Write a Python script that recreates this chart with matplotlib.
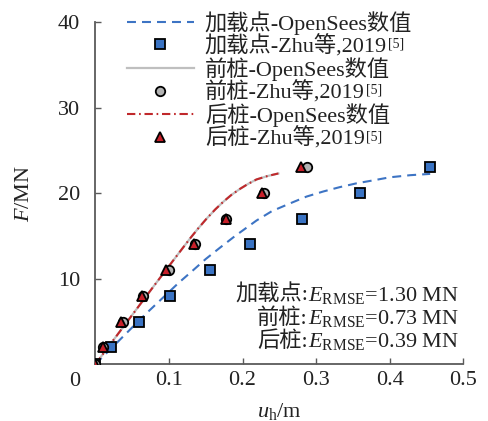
import matplotlib
matplotlib.use("Agg")
import matplotlib.pyplot as plt
from matplotlib.offsetbox import TextArea, HPacker, VPacker, AnchoredOffsetbox
from matplotlib.font_manager import FontProperties

plt.rcParams['font.family'] = ['Liberation Serif', 'Noto Sans CJK SC']
plt.rcParams['mathtext.fontset'] = 'custom'
plt.rcParams['mathtext.rm'] = 'Liberation Serif'
plt.rcParams['mathtext.it'] = 'Liberation Serif:italic'
plt.rcParams['font.size'] = 16

# OpenSees simulation curves (u_h in m, F in MN)
load_sim_u = [0, 0.0675, 0.113, 0.133, 0.15, 0.169, 0.19, 0.219, 0.24, 0.2645,
              0.287, 0.31, 0.332, 0.355, 0.378, 0.4, 0.428, 0.455]
load_sim_F = [0, 5.8, 9.5, 11.0, 12.3, 13.6, 15.0, 16.8, 17.9, 18.8,
              19.6, 20.2, 20.7, 21.15, 21.5, 21.85, 22.1, 22.25]
front_sim_u = [0, 0.04, 0.08, 0.11, 0.1287, 0.14, 0.151, 0.163, 0.174, 0.185,
               0.1966, 0.208, 0.219, 0.234, 0.2487]
front_sim_F = [0, 4.6, 9.2, 12.6, 14.7, 15.9, 17.0, 18.1, 19.0, 19.8,
               20.5, 21.1, 21.6, 22.0, 22.3]
rear_sim_u = front_sim_u
rear_sim_F = front_sim_F

# Zhu et al., 2019 test data
load_exp_u = [0, 0.022, 0.059, 0.102, 0.156, 0.210, 0.281, 0.359, 0.455]
load_exp_F = [0, 2, 5, 8, 11, 14, 17, 20, 23]
front_exp_u = [0, 0.011, 0.038, 0.065, 0.100, 0.136, 0.178, 0.229, 0.287]
front_exp_F = [0, 2, 5, 8, 11, 14, 17, 20, 23]
rear_exp_u = [0, 0.011, 0.0345, 0.063, 0.096, 0.134, 0.177, 0.226, 0.280]
rear_exp_F = [0, 2, 5, 8, 11, 14, 17, 20, 23]

labels = ["加载点-OpenSees数值", "加载点-Zhu等,2019",
          "前桩-OpenSees数值", "前桩-Zhu等,2019",
          "后桩-OpenSees数值", "后桩-Zhu等,2019"]
rmse_names = ["加载点:", "前桩:", "后桩:"]
rmse_values = ["1.30", "0.73", "0.39"]
x_ticks = [0.1, 0.2, 0.3, 0.4, 0.5]
y_ticks = [10, 20, 30, 40]

blue_line = '#3d74c4'
blue_face = '#3a73c3'
gray_line = '#bfbfbf'
gray_face = '#b3b3b3'
red_line = '#c0282b'
red_face = '#c8202a'

fig = plt.figure(figsize=(4.89, 4.21), dpi=100)
ax = fig.add_axes([95.3 / 489, 1 - 364.3 / 421, 368 / 489, 342.3 / 421])

h1, = ax.plot(load_sim_u, load_sim_F, color=blue_line, lw=1.5,
              linestyle=(0, (4.3, 2.9)), zorder=2)
h3, = ax.plot(front_sim_u, front_sim_F, color=gray_line, lw=1.6, zorder=2)
h5, = ax.plot(rear_sim_u, rear_sim_F, color=red_line, lw=1.5,
              linestyle=(0, (4, 1.8, 0.8, 1.8)), zorder=3)
h2, = ax.plot(load_exp_u, load_exp_F, 's', ms=6.8, mfc=blue_face, mec='black',
              mew=1.3, linestyle='none', zorder=4)
h4, = ax.plot(front_exp_u, front_exp_F, 'o', ms=6.8, mfc=gray_face, mec='black',
              mew=1.3, linestyle='none', zorder=5)
h6, = ax.plot(rear_exp_u, rear_exp_F, '^', ms=6.5, mfc=red_face, mec='black',
              mew=1.3, linestyle='none', zorder=6)

ax.set_xlim(0, 0.5)
ax.set_ylim(0, 40)
ax.set_xticks(x_ticks)
ax.set_xticklabels([f"{v:g}" for v in x_ticks])
ax.set_yticks(y_ticks)
ax.set_yticklabels([str(v) for v in y_ticks])
for s in ['top', 'right']:
    ax.spines[s].set_visible(False)
for s in ['left', 'bottom']:
    ax.spines[s].set_color('#5a5a5a')
    ax.spines[s].set_linewidth(1.3)
ax.tick_params(axis='both', direction='in', length=4, width=1.0, color='#5a5a5a',
               labelsize=16, labelcolor='#222222')
ax.tick_params(axis='x', pad=5)
ax.tick_params(axis='y', pad=11)
ax.text(-0.055, -0.049, "0", transform=ax.transAxes, ha='center', va='center',
        fontsize=16, color='#222222')

ax.set_xlabel(r"$u_\mathrm{h}$/m", fontsize=16, labelpad=7.5, color='#222222')
ax.set_ylabel(r"$F$/MN", fontsize=16, labelpad=17, color='#222222')

leg = ax.legend([h1, h2, h3, h4, h5, h6], labels, loc='upper left',
                bbox_to_anchor=(127 / 489, 1 - 11 / 421),
                bbox_transform=fig.transFigure, frameon=False, fontsize=16,
                handlelength=3.0, handletextpad=0.5, labelspacing=0.0,
                borderpad=0, borderaxespad=0)
for t in leg.get_texts():
    t.set_color('#222222')

# RMSE summary block, right-aligned above the x axis
cjk = FontProperties(family=['Liberation Serif', 'Noto Sans CJK SC'], size=16)
rows = []
for name, val in zip(rmse_names, rmse_values):
    a = TextArea(name, textprops=dict(fontproperties=cjk, color='#222222'))
    b = TextArea(r"$E_{\mathrm{RMSE}}$=" + val + " MN",
                 textprops=dict(fontsize=16, color='#222222'))
    rows.append(HPacker(children=[a, b], align='baseline', pad=0, sep=0))
block = VPacker(children=rows, align='right', pad=0, sep=1.5)
anch = AnchoredOffsetbox(loc='lower right', child=block, pad=0, borderpad=0,
                         frameon=False, bbox_to_anchor=(459 / 489, 1 - 352 / 421),
                         bbox_transform=fig.transFigure)
ax.add_artist(anch)

# superscript reference marks after the experimental-data labels
fig.canvas.draw()
renderer = fig.canvas.get_renderer()
inv = fig.transFigure.inverted()
for t in leg.get_texts():
    if "Zhu" in t.get_text():
        bb = t.get_window_extent(renderer)
        x, y = inv.transform((bb.x1 + 1, bb.y1 - 3))
        fig.text(x, y, "[5]", fontsize=10, ha='left', va='top', color='#222222')

fig.savefig("out.png", dpi=100)
